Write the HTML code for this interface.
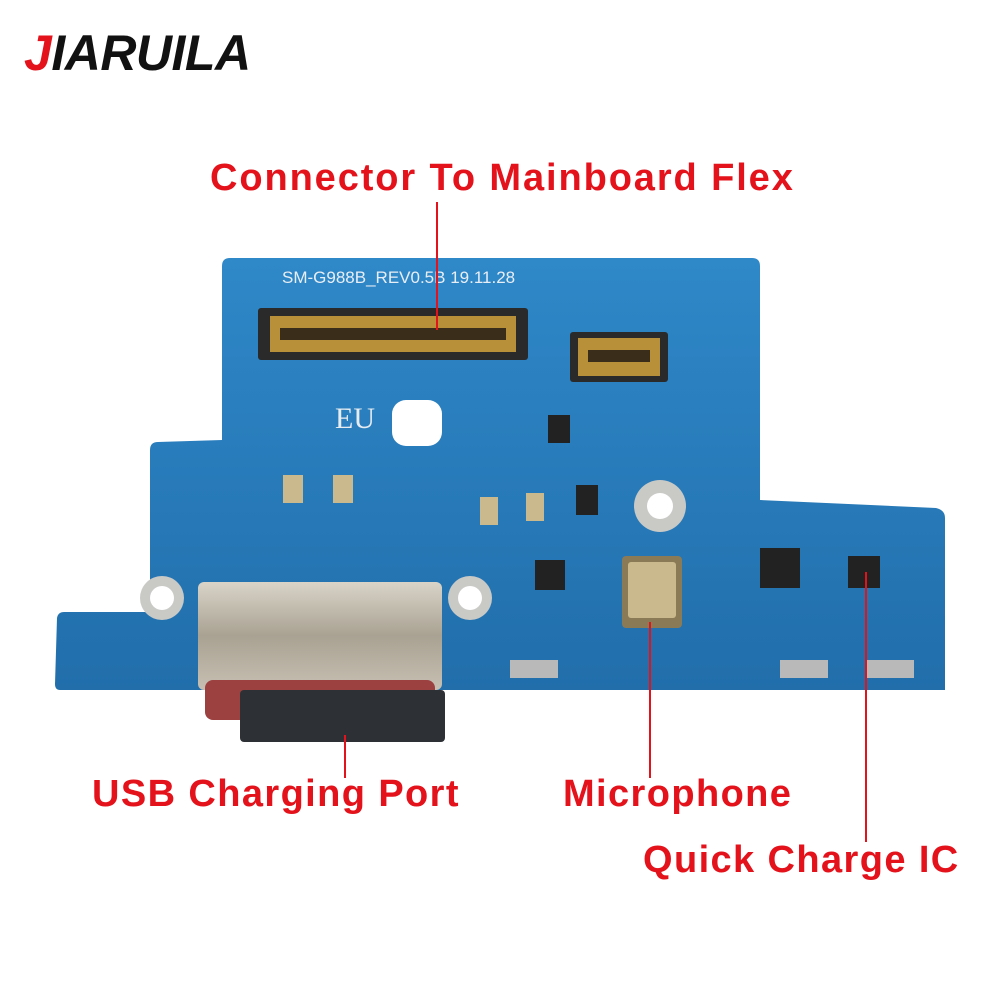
<!DOCTYPE html>
<html><head><meta charset="utf-8"><style>
html,body{margin:0;padding:0;background:#fff;}
body{width:1000px;height:1000px;position:relative;overflow:hidden;font-family:"Liberation Sans",sans-serif;}
.lbl{position:absolute;color:#e3121b;font-weight:bold;font-size:38px;white-space:nowrap;letter-spacing:1.4px;}
.logo{position:absolute;left:24px;top:24px;font-size:50px;font-weight:bold;font-style:italic;color:#111;letter-spacing:-0.5px;}
</style></head><body>
<div class="logo"><span style="color:#e3121b">J</span>IARUILA</div>
<div class="lbl" style="left:210px;top:157px;letter-spacing:1.9px;">Connector To Mainboard Flex</div>
<div class="lbl" style="left:92px;top:773px;">USB Charging Port</div>
<div class="lbl" style="left:563px;top:773px;">Microphone</div>
<div class="lbl" style="left:643px;top:839px;">Quick Charge IC</div>
<svg width="1000" height="1000" style="position:absolute;left:0;top:0" xmlns="http://www.w3.org/2000/svg">
<defs><linearGradient id="b" x1="0" y1="0" x2="0" y2="1"><stop offset="0" stop-color="#2f88c8"/><stop offset="1" stop-color="#216eab"/></linearGradient>
<linearGradient id="m" x1="0" y1="0" x2="0" y2="1"><stop offset="0" stop-color="#d9d4c8"/><stop offset="0.5" stop-color="#a9a293"/><stop offset="1" stop-color="#c7c0b2"/></linearGradient></defs>
<path d="M230,258 L752,258 Q760,258 760,266 L760,500 L936,508 Q945,510 945,518 L945,690 L60,690 Q55,690 55,684 L57,618 Q58,612 64,612 L150,612 L150,450 Q150,442 158,442 L222,440 L222,266 Q222,258 230,258 Z" fill="url(#b)"/>
<text x="282" y="283" font-size="17" fill="#e8eef5" font-family="Liberation Sans">SM-G988B_REV0.5B   19.11.28</text>
<rect x="258" y="308" width="270" height="52" fill="#2a2a2a" rx="3"/>
<rect x="270" y="316" width="246" height="36" fill="#b8903a"/>
<rect x="280" y="328" width="226" height="12" fill="#3a2e1a"/>
<rect x="570" y="332" width="98" height="50" fill="#2a2a2a" rx="3"/>
<rect x="578" y="338" width="82" height="38" fill="#b8903a"/>
<rect x="588" y="350" width="62" height="12" fill="#3a2e1a"/>
<rect x="392" y="400" width="50" height="46" rx="14" fill="#fff"/>
<text x="335" y="428" font-size="30" fill="#e6ecf2" font-family="Liberation Serif">EU</text>
<circle cx="162" cy="598" r="22" fill="#c9c9c6"/><circle cx="162" cy="598" r="12" fill="#fff"/>
<circle cx="470" cy="598" r="22" fill="#c9c9c6"/><circle cx="470" cy="598" r="12" fill="#fff"/>
<circle cx="660" cy="506" r="26" fill="#c9c9c6"/><circle cx="660" cy="506" r="13" fill="#fff"/>
<rect x="622" y="556" width="60" height="72" rx="4" fill="#8a7a55"/>
<rect x="628" y="562" width="48" height="56" rx="3" fill="#c9b98c"/>
<rect x="760" y="548" width="40" height="40" fill="#222"/>
<rect x="848" y="556" width="32" height="32" fill="#222"/>
<rect x="535" y="560" width="30" height="30" fill="#222"/>
<rect x="548" y="415" width="22" height="28" fill="#222"/>
<rect x="576" y="485" width="22" height="30" fill="#222"/>
<rect x="283" y="475" width="20" height="28" fill="#c9b98c"/>
<rect x="333" y="475" width="20" height="28" fill="#c9b98c"/>
<rect x="480" y="497" width="18" height="28" fill="#c9b98c"/>
<rect x="526" y="493" width="18" height="28" fill="#c9b98c"/>
<rect x="510" y="660" width="48" height="18" fill="#b9b9b9"/>
<rect x="780" y="660" width="48" height="18" fill="#b9b9b9"/>
<rect x="866" y="660" width="48" height="18" fill="#b9b9b9"/>
<rect x="198" y="582" width="244" height="108" rx="6" fill="url(#m)"/>
<rect x="205" y="680" width="230" height="40" rx="8" fill="#9c4040"/>
<rect x="240" y="690" width="205" height="52" rx="4" fill="#2d3135"/>
<g stroke="#e3121b" stroke-width="2">
<line x1="437" y1="202" x2="437" y2="330"/>
<line x1="345" y1="735" x2="345" y2="778"/>
<line x1="650" y1="622" x2="650" y2="778"/>
<line x1="866" y1="572" x2="866" y2="842"/>
</g>
</svg>
</body></html>
